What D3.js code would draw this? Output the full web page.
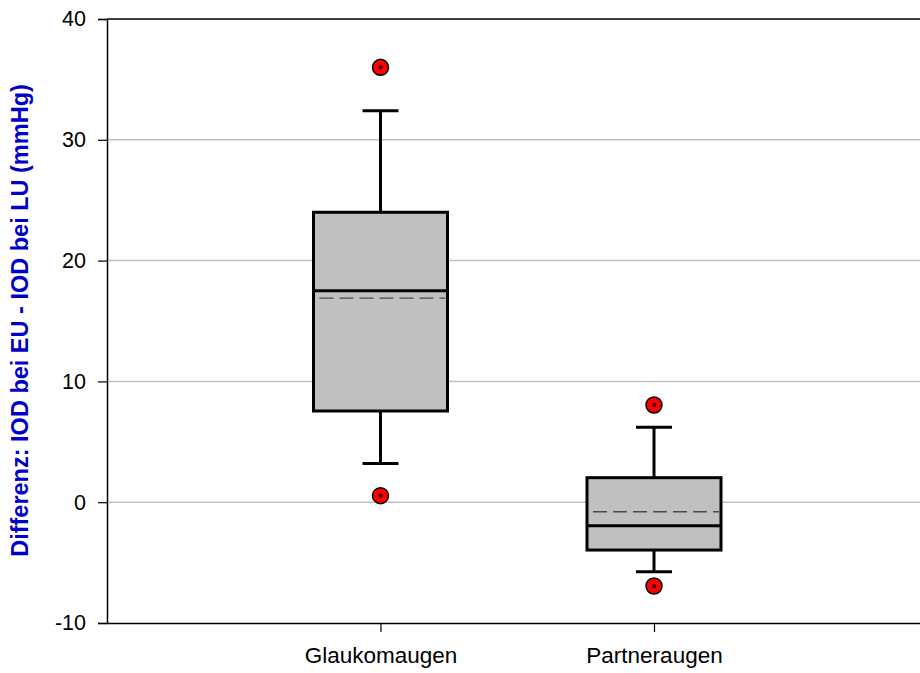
<!DOCTYPE html>
<html>
<head>
<meta charset="utf-8">
<script src="https://cdn.jsdelivr.net/npm/d3@7"></script>
<style>
  html, body { margin: 0; padding: 0; background: #fff; }
  svg { display: block; }
  text { font-family: "Liberation Sans", Arial, sans-serif; }
</style>
</head>
<body>
<svg id="chart" width="920" height="673"></svg>
<script>
// Box plot: difference of IOP (EU minus LU) for glaucoma eyes and fellow eyes
const categories = ["Glaukomaugen", "Partneraugen"];
const whiskerLow  = [3.2, -5.75];
const q1          = [7.55, -3.96];
const median      = [17.5, -1.95];
const mean        = [16.9, -0.79];
const q3          = [24.0, 2.03];
const whiskerHigh = [32.4, 6.2];
const outliers    = [[36.0, 0.54], [8.05, -6.94]];
const yTicks = [-10, 0, 10, 20, 30, 40];
const yLabel = "Differenz: IOD bei EU - IOD bei LU (mmHg)";

const svg = d3.select("#chart");
const plotLeft = 107, plotTop = 19, plotBottom = 623, plotRight = 920;
const fontFamily = "'Liberation Sans', Arial, sans-serif";

const y = d3.scaleLinear().domain([-10, 40]).range([plotBottom, plotTop]);
// category positions sit at 1 and 2 on a 0..3 axis
const x = d3.scaleLinear().domain([0, 3]).range([plotLeft, plotLeft + 820.5]);

// horizontal grid lines
svg.append("g")
  .selectAll("line")
  .data(yTicks.filter(t => t > -10 && t < 40))
  .join("line")
  .attr("x1", plotLeft).attr("x2", plotRight)
  .attr("y1", d => y(d)).attr("y2", d => y(d))
  .attr("stroke", "#c0c0c0").attr("stroke-width", 1.5);

// top frame line
svg.append("line")
  .attr("x1", plotLeft).attr("x2", plotRight)
  .attr("y1", y(40)).attr("y2", y(40))
  .attr("stroke", "#000").attr("stroke-width", 1.5);

// y axis
const yAxis = svg.append("g")
  .attr("transform", `translate(${plotLeft},0)`)
  .call(d3.axisLeft(y).tickValues(yTicks).tickSize(9).tickPadding(12).tickFormat(d => String(d)));
yAxis.select(".domain").attr("stroke", "#000").attr("stroke-width", 1.5);
yAxis.selectAll(".tick line").attr("stroke", "#000").attr("stroke-width", 1.2);
yAxis.selectAll(".tick text").attr("font-size", 21.5).attr("fill", "#000")
  .style("font-family", fontFamily);

// x axis
const xAxis = svg.append("g")
  .attr("transform", `translate(0,${plotBottom})`)
  .call(d3.axisBottom(x).tickValues([1, 2]).tickSize(9).tickPadding(15)
    .tickFormat(d => categories[d - 1]).tickSizeOuter(0));
xAxis.select(".domain").attr("stroke", "#000").attr("stroke-width", 1.5);
xAxis.selectAll(".tick line").attr("stroke", "#000").attr("stroke-width", 1.2);
xAxis.selectAll(".tick text").attr("font-size", 22.5).attr("fill", "#000")
  .style("font-family", fontFamily);

// y axis title
svg.append("text")
  .attr("transform", `translate(28,320.5) rotate(-90)`)
  .attr("text-anchor", "middle")
  .attr("font-size", 23.5)
  .attr("font-weight", "bold")
  .attr("fill", "#0000c8")
  .style("font-family", fontFamily)
  .text(yLabel);

const boxHalf = 67, capHalf = 18;
const g = svg.append("g");

categories.forEach((c, i) => {
  const cx = x(i + 1);
  // whiskers
  g.append("line").attr("x1", cx).attr("x2", cx)
    .attr("y1", y(q3[i])).attr("y2", y(whiskerHigh[i]))
    .attr("stroke", "#000").attr("stroke-width", 3);
  g.append("line").attr("x1", cx).attr("x2", cx)
    .attr("y1", y(q1[i])).attr("y2", y(whiskerLow[i]))
    .attr("stroke", "#000").attr("stroke-width", 3);
  [whiskerHigh[i], whiskerLow[i]].forEach(v => {
    g.append("line").attr("x1", cx - capHalf).attr("x2", cx + capHalf)
      .attr("y1", y(v)).attr("y2", y(v))
      .attr("stroke", "#000").attr("stroke-width", 3);
  });
  // box
  g.append("rect")
    .attr("x", cx - boxHalf).attr("width", boxHalf * 2)
    .attr("y", y(q3[i])).attr("height", y(q1[i]) - y(q3[i]))
    .attr("fill", "#c0c0c0").attr("stroke", "#000").attr("stroke-width", 3);
  // mean (dashed)
  g.append("line").attr("x1", cx - boxHalf + 2).attr("x2", cx + boxHalf - 2)
    .attr("y1", y(mean[i])).attr("y2", y(mean[i]))
    .attr("stroke", "#4a4a4a").attr("stroke-width", 1.3)
    .attr("stroke-dasharray", "14,6").attr("stroke-dashoffset", -4);
  // median
  g.append("line").attr("x1", cx - boxHalf).attr("x2", cx + boxHalf)
    .attr("y1", y(median[i])).attr("y2", y(median[i]))
    .attr("stroke", "#000").attr("stroke-width", 3);
  // outliers
  outliers[i].forEach(v => {
    g.append("circle").attr("cx", cx).attr("cy", y(v)).attr("r", 8)
      .attr("fill", "#ff0000").attr("stroke", "#000").attr("stroke-width", 1.5);
    g.append("circle").attr("cx", cx).attr("cy", y(v)).attr("r", 1.6)
      .attr("fill", "#600000").attr("stroke", "#000").attr("stroke-width", 0.8);
  });
});
</script>
</body>
</html>
